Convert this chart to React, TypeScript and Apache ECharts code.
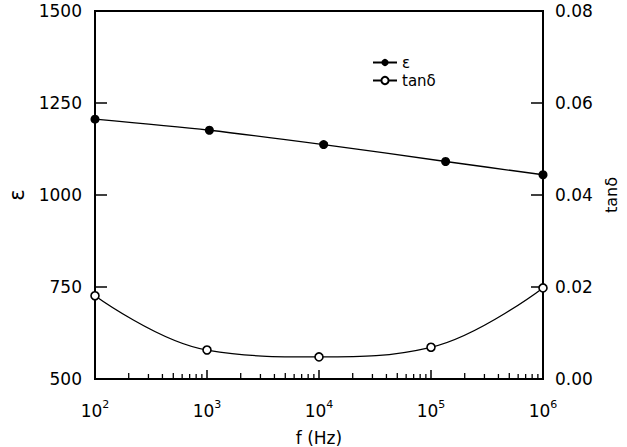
import React, { useEffect, useRef } from "react";
import * as echarts from "echarts";

const freqEps = [100, 1050, 11000, 135000, 1000000];
const epsValues = [1206, 1176, 1137, 1091, 1055];
const freqTan = [100, 1000, 10000, 100000, 1000000];
const tanValues = [0.0181, 0.0063, 0.0048, 0.0069, 0.0198];
const leftTicks = { min: 500, max: 1500, interval: 250 };
const rightTicks = { min: 0, max: 0.08, interval: 0.02 };
const decades = [2, 3, 4, 5];
const minorMultipliers = [2, 3, 4, 5, 6, 7, 8, 9];

const FONT = "DejaVu Sans";

export default function App() {
  const ref = useRef<HTMLDivElement>(null);
  useEffect(() => {
    if (!ref.current) return;
    const chart = echarts.init(ref.current, null, { renderer: "svg" });
    const minorTicks: number[][] = [];
    decades.forEach((d) =>
      minorMultipliers.forEach((m) => minorTicks.push([m * Math.pow(10, d)]))
    );
    chart.setOption({
      animation: false,
      backgroundColor: "#fff",
      grid: {
        left: 95,
        right: 84,
        top: 11,
        bottom: 68,
        show: true,
        borderColor: "#000",
        borderWidth: 2,
        containLabel: false,
        outerBoundsMode: "none",
      },
      legend: {
        orient: "vertical",
        left: 372,
        top: 55,
        itemWidth: 24,
        itemHeight: 9,
        itemGap: 3,
        padding: 0,
        data: ["ε", "tanδ"],
        textStyle: { fontFamily: FONT, fontSize: 15, lineHeight: 14, color: "#000" },
      },
      xAxis: {
        type: "log",
        logBase: 10,
        min: 100,
        max: 1000000,
        interval: 1,
        name: "f (Hz)",
        nameLocation: "middle",
        nameGap: 50,
        nameTextStyle: { fontFamily: FONT, fontSize: 17, color: "#000" },
        axisLine: { show: true, lineStyle: { color: "#000", width: 2 } },
        axisTick: { show: true, inside: true, length: 9, lineStyle: { color: "#000", width: 1.5 } },
        splitLine: { show: false },
        minorTick: { show: false },
        axisLabel: {
          margin: 20,
          color: "#000",
          formatter: (v: number) => `{b|10}{s|${Math.round(Math.log10(v))}}`,
          rich: {
            b: { fontFamily: FONT, fontSize: 17, color: "#000" },
            s: { fontFamily: FONT, fontSize: 11, color: "#000", verticalAlign: "top", padding: [0, 0, 12, 0] },
          },
        },
      },
      yAxis: [
        {
          type: "value",
          min: leftTicks.min,
          max: leftTicks.max,
          interval: leftTicks.interval,
          name: "ε",
          nameLocation: "middle",
          nameRotate: 90,
          nameGap: 68,
          nameTextStyle: { fontFamily: FONT, fontSize: 21, color: "#000" },
          axisLine: { show: true, lineStyle: { color: "#000", width: 2 } },
          axisTick: { show: true, inside: true, length: 12, lineStyle: { color: "#000", width: 1.5 } },
          splitLine: { show: false },
          axisLabel: {
            fontFamily: FONT,
            fontSize: 17,
            color: "#000",
            margin: 13,
            formatter: (v: number) => String(v),
          },
        },
        {
          type: "value",
          min: rightTicks.min,
          max: rightTicks.max,
          interval: rightTicks.interval,
          position: "right",
          name: "tanδ",
          nameLocation: "middle",
          nameRotate: 90,
          nameGap: 56,
          nameTextStyle: { fontFamily: FONT, fontSize: 16, color: "#000" },
          axisLine: { show: true, lineStyle: { color: "#000", width: 2 } },
          axisTick: { show: true, inside: true, length: 12, lineStyle: { color: "#000", width: 1.5 } },
          splitLine: { show: false },
          axisLabel: {
            fontFamily: FONT,
            fontSize: 17,
            color: "#000",
            margin: 12,
            formatter: (v: number) => v.toFixed(2),
          },
        },
      ],
      series: [
        {
          name: "ε",
          type: "line",
          yAxisIndex: 0,
          data: freqEps.map((f, i) => [f, epsValues[i]]),
          symbol: "circle",
          symbolSize: 9,
          smooth: 0.3,
          itemStyle: { color: "#000" },
          lineStyle: { color: "#000", width: 1.3 },
        },
        {
          name: "tanδ",
          type: "line",
          yAxisIndex: 1,
          data: freqTan.map((f, i) => [f, tanValues[i]]),
          symbol: "circle",
          symbolSize: 8,
          smooth: 0.4,
          itemStyle: { color: "#fff", borderColor: "#000", borderWidth: 1.6 },
          lineStyle: { color: "#000", width: 1.3 },
        },
        {
          name: "minorTicks",
          type: "custom",
          xAxisIndex: 0,
          yAxisIndex: 0,
          silent: true,
          clip: false,
          data: minorTicks,
          renderItem: (params: any, api: any) => {
            const x = api.value(0);
            const p = api.coord([x, leftTicks.min]);
            const m = Math.round(x / Math.pow(10, Math.floor(Math.log10(x) + 1e-9)));
            const len = m === 2 || m === 5 ? 6 : 5;
            return {
              type: "line",
              shape: { x1: p[0], y1: p[1], x2: p[0], y2: p[1] - len },
              style: { stroke: "#000", lineWidth: 1.3 },
            };
          },
        },
      ],
    });
    return () => chart.dispose();
  }, []);
  return (
    <div
      ref={ref}
      style={{ position: "absolute", left: 0, top: 0, width: 627, height: 447, background: "#fff" }}
    />
  );
}
